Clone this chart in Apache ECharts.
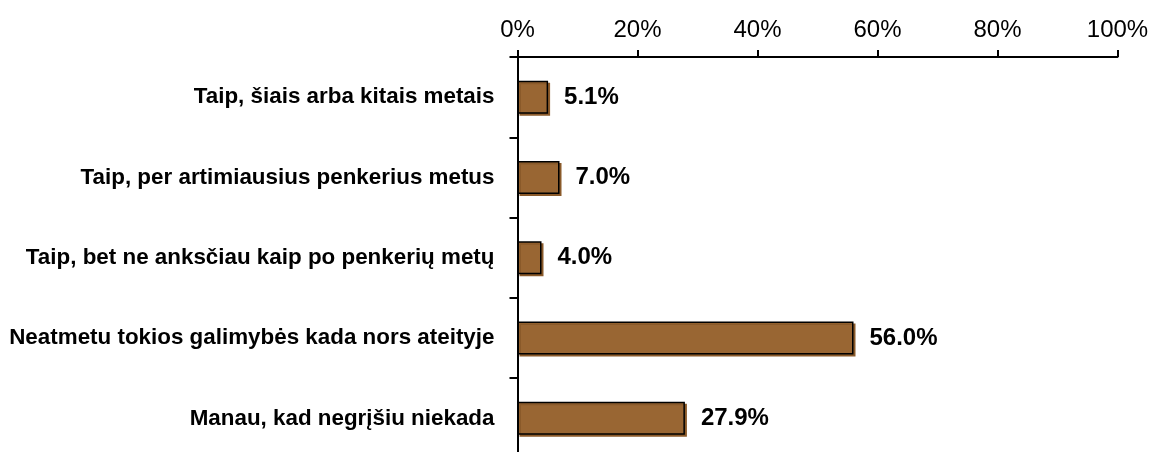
<!DOCTYPE html>
<html>
<head>
<meta charset="utf-8">
<script src="https://cdn.jsdelivr.net/npm/echarts@6/dist/echarts.min.js"></script>
<style>
  html, body { margin: 0; padding: 0; background: #ffffff; }
  #chart { width: 1152px; height: 452px; }
</style>
</head>
<body>
<div id="chart"></div>
<script>
// Answers to "Ar planuojate grįžti?" – share of respondents
const categories = [
  'Taip, šiais arba kitais metais',
  'Taip, per artimiausius penkerius metus',
  'Taip, bet ne anksčiau kaip po penkerių metų',
  'Neatmetu tokios galimybės kada nors ateityje',
  'Manau, kad negrįšiu niekada'
];
const shares = [5.1, 7.0, 4.0, 56.0, 27.9];
const tickValues = [0, 20, 40, 60, 80, 100];

const FONT = '"Liberation Sans", Arial, sans-serif';
const chart = echarts.init(document.getElementById('chart'), null, { renderer: 'canvas' });

chart.setOption({
  animation: false,
  backgroundColor: '#ffffff',
  grid: {
    left: 517.5, top: 57, width: 600, height: 401.5,
    containLabel: false,
    outerBoundsMode: 'none'
  },
  xAxis: {
    type: 'value',
    position: 'top',
    min: tickValues[0],
    max: tickValues[tickValues.length - 1],
    interval: 20,
    axisLine: { show: true, lineStyle: { color: '#000', width: 2 } },
    axisTick: { show: true, length: 7, lineStyle: { color: '#000', width: 2 } },
    splitLine: { show: false },
    axisLabel: {
      margin: 15,
      color: '#000',
      fontFamily: FONT,
      fontSize: 24,
      formatter: v => v + '%'
    }
  },
  yAxis: {
    type: 'category',
    inverse: true,
    data: categories,
    axisLine: { show: true, lineStyle: { color: '#000', width: 2 } },
    axisTick: { show: true, length: 8, lineStyle: { color: '#000', width: 2 } },
    axisLabel: {
      margin: 23,
      color: '#000',
      fontFamily: FONT,
      fontWeight: 'bold',
      fontSize: 22.4,
      padding: [8, 0, 0, 0]
    }
  },
  series: [{
    type: 'bar',
    data: shares,
    barWidth: 33,
    itemStyle: {
      color: '#996633',
      borderColor: '#000',
      borderWidth: 1.5,
      shadowColor: '#8a5a2a',
      shadowOffsetX: 2,
      shadowOffsetY: 2,
      shadowBlur: 0
    },
    label: {
      show: true,
      position: 'right',
      distance: 16,
      color: '#000',
      fontFamily: FONT,
      fontWeight: 'bold',
      fontSize: 24,
      padding: [8, 0, 0, 0],
      formatter: p => p.value.toFixed(1) + '%'
    }
  }]
});
</script>
</body>
</html>
